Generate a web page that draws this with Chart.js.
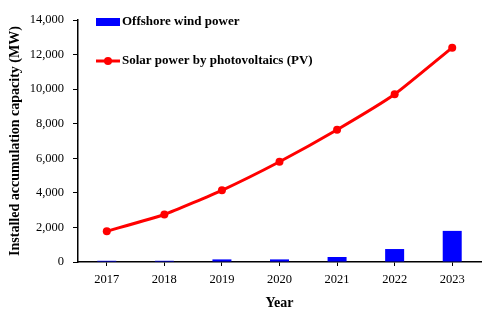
<!DOCTYPE html>
<html>
<head>
<meta charset="utf-8">
<script src="https://cdn.jsdelivr.net/npm/chart.js@4/dist/chart.umd.min.js"></script>
<style>
  html, body { margin: 0; padding: 0; background: #fff; }
  #wrap { width: 500px; height: 316px; position: relative; }
</style>
</head>
<body>
<div id="wrap"><canvas id="c" width="500" height="316"></canvas></div>
<script>
const years = ["2017", "2018", "2019", "2020", "2021", "2022", "2023"];
const offshoreWind = [70, 70, 150, 150, 290, 750, 1800];
const solarPV = [1780, 2750, 4150, 5800, 7650, 9700, 12400];
const yTicks = [0, 2000, 4000, 6000, 8000, 10000, 12000, 14000];
const seriesNames = ["Offshore wind power", "Solar power by photovoltaics (PV)"];
const yTitle = "Installed accumulation capacity (MW)";
const xTitle = "Year";

const SERIF = "'Liberation Serif', 'Times New Roman', serif";

const legendPlugin = {
  id: 'insideLegend',
  afterDraw(chart) {
    const ctx = chart.ctx;
    const x0 = chart.chartArea.left + 18;
    ctx.save();
    ctx.font = "bold 13px " + SERIF;
    ctx.fillStyle = "#000";
    ctx.textBaseline = "middle";
    ctx.textAlign = "left";
    const ds0 = chart.data.datasets[0];
    ctx.fillStyle = ds0.backgroundColor;
    ctx.fillRect(x0, 18, 24, 8);
    ctx.fillStyle = "#000";
    ctx.fillText(ds0.label, x0 + 26, 22);
    const ds1 = chart.data.datasets[1];
    const y2 = 61;
    ctx.strokeStyle = ds1.borderColor;
    ctx.lineWidth = 3;
    ctx.beginPath();
    ctx.moveTo(x0, y2);
    ctx.lineTo(x0 + 24, y2);
    ctx.stroke();
    ctx.fillStyle = ds1.borderColor;
    ctx.beginPath();
    ctx.arc(x0 + 12, y2, 4, 0, Math.PI * 2);
    ctx.fill();
    ctx.fillStyle = "#000";
    ctx.fillText(ds1.label, x0 + 26, y2);
    ctx.restore();
  }
};

new Chart(document.getElementById('c'), {
  data: {
    labels: years,
    datasets: [
      {
        type: 'bar',
        label: seriesNames[0],
        data: offshoreWind,
        backgroundColor: '#0000ff',
        borderWidth: 0,
        barPercentage: 0.66,
        categoryPercentage: 0.5,
        order: 2
      },
      {
        type: 'line',
        label: seriesNames[1],
        data: solarPV,
        borderColor: '#ff0000',
        backgroundColor: '#ff0000',
        borderWidth: 3,
        pointRadius: 4,
        pointHoverRadius: 4,
        pointBackgroundColor: '#ff0000',
        pointBorderWidth: 0,
        tension: 0.15,
        order: 1
      }
    ]
  },
  options: {
    responsive: false,
    animation: false,
    devicePixelRatio: 1,
    layout: { padding: { top: 20, right: 19, bottom: 0, left: 3 } },
    plugins: {
      legend: { display: false },
      tooltip: { enabled: false }
    },
    scales: {
      x: {
        offset: true,
        grid: {
          display: true,
          drawOnChartArea: false,
          drawTicks: true,
          tickLength: 4,
          tickColor: '#000',
          offset: false
        },
        border: { color: '#000', width: 1.5 },
        ticks: {
          color: '#000',
          font: { family: SERIF, size: 12.5 },
          padding: 6
        },
        title: {
          display: true,
          text: xTitle,
          color: '#000',
          font: { family: SERIF, size: 14, weight: 'bold' },
          padding: { top: 5 }
        },
        afterFit(scale) { scale.height = 54; }
      },
      y: {
        min: 0,
        max: 14000,
        afterBuildTicks(scale) { scale.ticks = yTicks.map(v => ({ value: v })); },
        grid: {
          display: true,
          drawOnChartArea: false,
          drawTicks: true,
          tickLength: 5,
          tickColor: '#000'
        },
        border: { color: '#000', width: 1.5 },
        ticks: {
          color: '#000',
          font: { family: SERIF, size: 12.5 },
          padding: 9,
          callback: (v) => v.toLocaleString('en-US')
        },
        title: {
          display: true,
          text: yTitle,
          color: '#000',
          font: { family: SERIF, size: 14, weight: 'bold' },
          padding: { bottom: 4 }
        },
        afterFit(scale) { scale.width = 75; }
      }
    }
  },
  plugins: [legendPlugin]
});
</script>
</body>
</html>
